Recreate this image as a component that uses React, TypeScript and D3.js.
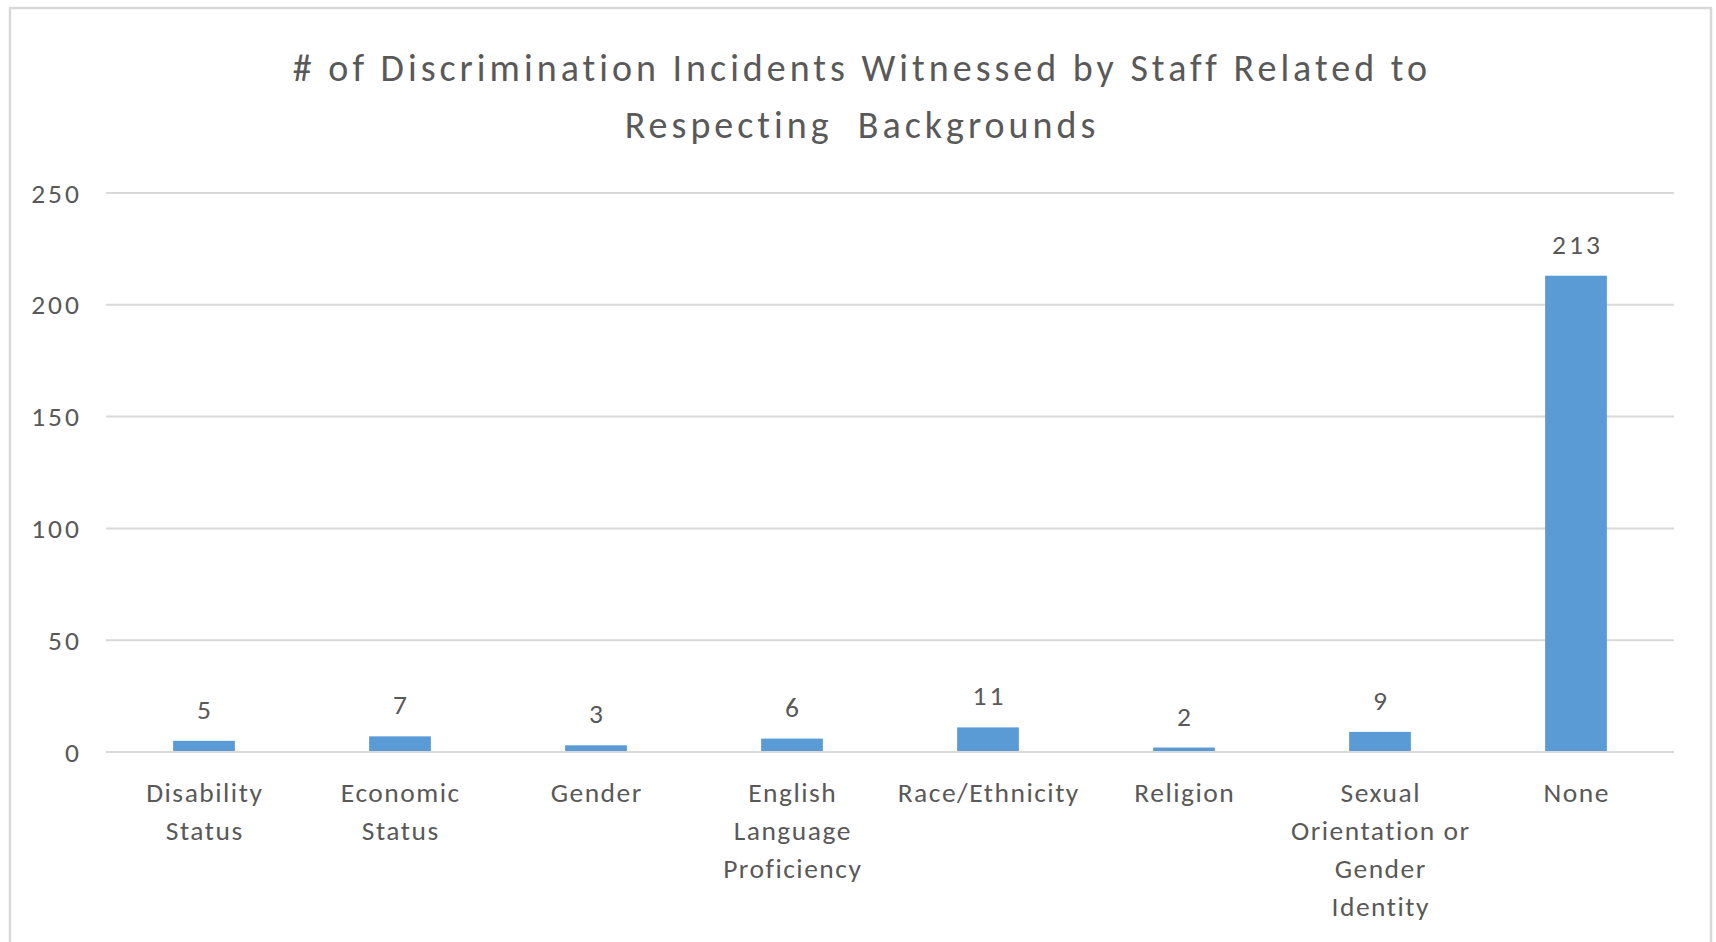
import React from "react";
import * as d3 from "d3";

const categories: string[][] = [
  ["Disability", "Status"],
  ["Economic", "Status"],
  ["Gender"],
  ["English", "Language", "Proficiency"],
  ["Race/Ethnicity"],
  ["Religion"],
  ["Sexual", "Orientation or", "Gender", "Identity"],
  ["None"],
];
const counts: number[] = [5, 7, 3, 6, 11, 2, 9, 213];
const yTicks: number[] = [0, 50, 100, 150, 200, 250];
const titleLines: string[] = [
  "# of Discrimination Incidents Witnessed by Staff Related to",
  "Respecting  Backgrounds",
];

const W = 1716;
const H = 942;
const FONT = "Carlito, Calibri, Lato, sans-serif";
const TEXT = "#595959";
const GRID = "#d9d9d9";
const BAR = "#5b9bd5";
const LS_TITLE = 4;
const LS_LABEL = 1.5;
const LS_NUM = 3;

export default function App() {
  const keys = categories.map((c) => c.join(" "));
  const x = d3.scaleBand<string>().domain(keys).range([106, 1674]).paddingInner(0.685).paddingOuter(0.3425);
  const y = d3.scaleLinear().domain([0, 250]).range([752, 193]);

  return (
    <svg
      width={W}
      height={H}
      style={{ position: "absolute", left: 0, top: 0, background: "#fff" }}
      fontFamily={FONT}
    >
      <rect x={0} y={0} width={W} height={H} fill="#fff" />
      <rect x={10} y={8} width={1701} height={960} fill="none" stroke={GRID} strokeWidth={2.5} />
      {titleLines.map((t, i) => (
        <text
          key={i}
          x={860 + LS_TITLE / 2}
          y={81 + i * 57}
          textAnchor="middle"
          fontSize={38}
          letterSpacing={LS_TITLE}
          fill={TEXT}
          style={{ whiteSpace: "pre" }}
        >
          {t}
        </text>
      ))}
      {yTicks.map((t) => (
        <g key={t}>
          <line x1={106} x2={1674} y1={y(t)} y2={y(t)} stroke={GRID} strokeWidth={2} />
          <text
            x={79 + LS_NUM}
            y={y(t)}
            dy="0.35em"
            textAnchor="end"
            fontSize={27.5}
            letterSpacing={LS_NUM}
            fill={TEXT}
          >
            {t}
          </text>
        </g>
      ))}
      {keys.map((k, i) => {
        const bx = x(k) as number;
        const bw = x.bandwidth();
        const cx = bx + bw / 2;
        return (
          <g key={k}>
            <rect x={bx} y={y(counts[i])} width={bw} height={y(0) - y(counts[i]) - 1} fill={BAR} />
            <text
              x={cx + LS_NUM / 2}
              y={y(counts[i]) - 22}
              textAnchor="middle"
              fontSize={27.5}
              letterSpacing={LS_NUM}
              fill={TEXT}
            >
              {counts[i]}
            </text>
            {categories[i].map((line, j) => (
              <text
                key={j}
                x={cx + LS_LABEL / 2}
                y={802 + j * 38}
                textAnchor="middle"
                fontSize={27.5}
                letterSpacing={LS_LABEL}
                fill={TEXT}
              >
                {line}
              </text>
            ))}
          </g>
        );
      })}
    </svg>
  );
}
